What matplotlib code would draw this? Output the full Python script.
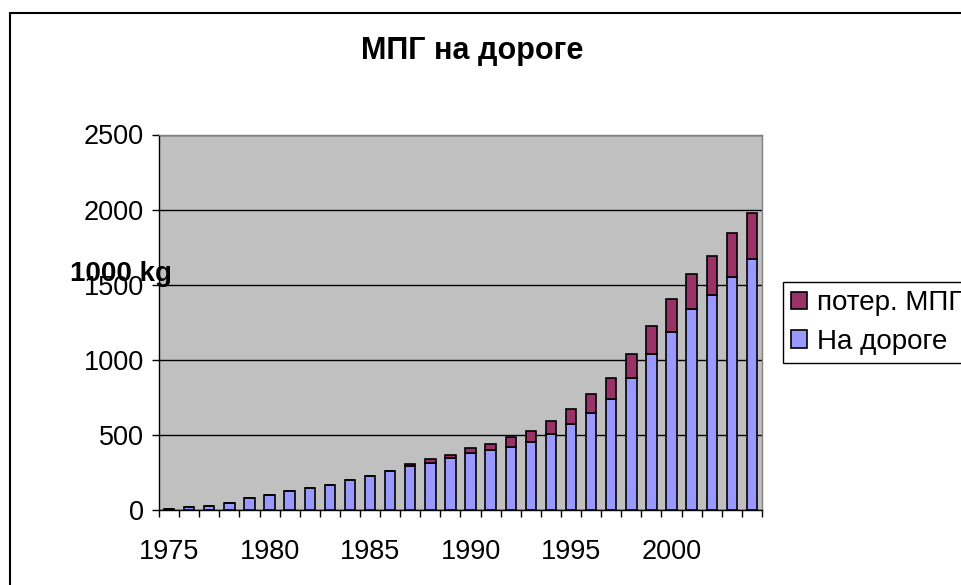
#%% imports
import matplotlib
matplotlib.use('Agg')
import matplotlib.pyplot as plt
import matplotlib.patches as patches
import numpy as np

plt.rcParams['font.family'] = ['Liberation Sans', 'DejaVu Sans']

#%% data (1000 kg)
years = [1975, 1976, 1977, 1978, 1979, 1980, 1981, 1982, 1983, 1984,
         1985, 1986, 1987, 1988, 1989, 1990, 1991, 1992, 1993, 1994,
         1995, 1996, 1997, 1998, 1999, 2000, 2001, 2002, 2003, 2004]
on_road = [8, 20, 31, 51, 82, 104, 126, 146, 169, 200,
           231, 264, 293, 315, 347, 380, 402, 421, 453, 505,
           571, 646, 741, 879, 1041, 1187, 1338, 1434, 1551, 1671]
lost = [0, 0, 0, 0, 0, 0, 0, 0, 0, 0,
        0, 0, 15, 25, 22, 33, 42, 65, 76, 90,
        106, 129, 140, 162, 184, 218, 235, 257, 291, 309]
yticks = [0, 500, 1000, 1500, 2000, 2500]
label_years = [1975, 1980, 1985, 1990, 1995, 2000]

title = 'МПГ на дороге'
ylabel = '1000 kg'
names = ['На дороге', 'потер. МПГ']
blue = '#9999FF'
plum = '#993366'

#%% figure
fig = plt.figure(figsize=(9.62, 5.85), dpi=100)
ax = fig.add_axes([159 / 962, 1 - 510.3 / 585, (762 - 159) / 962, (510.3 - 134.5) / 585])
ax.set_facecolor('#C0C0C0')

x = np.arange(len(years))
b1 = ax.bar(x, on_road, width=0.52, color=blue, edgecolor='black', linewidth=1.2, zorder=3)
b2 = ax.bar(x, lost, width=0.52, bottom=on_road, color=plum, edgecolor='black', linewidth=1.2, zorder=3)

ax.set_xlim(-0.5, len(years) - 0.5)
ax.set_ylim(0, 2500)
ax.set_yticks(yticks)
ax.set_yticklabels([str(v) for v in yticks])
ax.yaxis.grid(True, color='black', linewidth=1.0, zorder=1)

# ticks on category edges, labels on every 5th category centre
ax.set_xticks([years.index(y) for y in label_years])
ax.set_xticklabels([str(y) for y in label_years])
ax.set_xticks(np.arange(len(years) + 1) - 0.5, minor=True)
ax.tick_params(axis='x', which='major', length=0, pad=21, labelsize=19.5)
ax.tick_params(axis='x', which='minor', length=5, width=1, color='black', direction='out')
ax.tick_params(axis='y', length=5, width=1, direction='out', pad=6, labelsize=19.5)

for side in ['top', 'right']:
    ax.spines[side].set_color('#808080')
    ax.spines[side].set_linewidth(1.0)
for side in ['left', 'bottom']:
    ax.spines[side].set_color('black')
    ax.spines[side].set_linewidth(1.0)

#%% text
fig.text(472 / 962, 1 - 51 / 585, title, ha='center', va='center', fontsize=22, fontweight='bold')
fig.text(121 / 962, 1 - 274 / 585, ylabel, ha='center', va='center', fontsize=20, fontweight='bold')

leg = fig.legend([b2, b1], [names[1], names[0]], loc='upper left',
                 bbox_to_anchor=(783 / 962, 1 - 282 / 585), fontsize=20,
                 frameon=True, fancybox=False, edgecolor='black', framealpha=1,
                 handlelength=0.58, handleheight=0.58, handletextpad=0.33,
                 borderpad=0.3, labelspacing=0.45, borderaxespad=0)
leg.get_frame().set_linewidth(1.0)

# outer chart frame (runs off the right and bottom edge)
fig.patches.append(patches.Rectangle((10 / 962, -0.1), 1.2, 1.1 - 13 / 585,
                                     transform=fig.transFigure, fill=False,
                                     edgecolor='black', linewidth=1.5))

fig.savefig('out.png', dpi=100)
